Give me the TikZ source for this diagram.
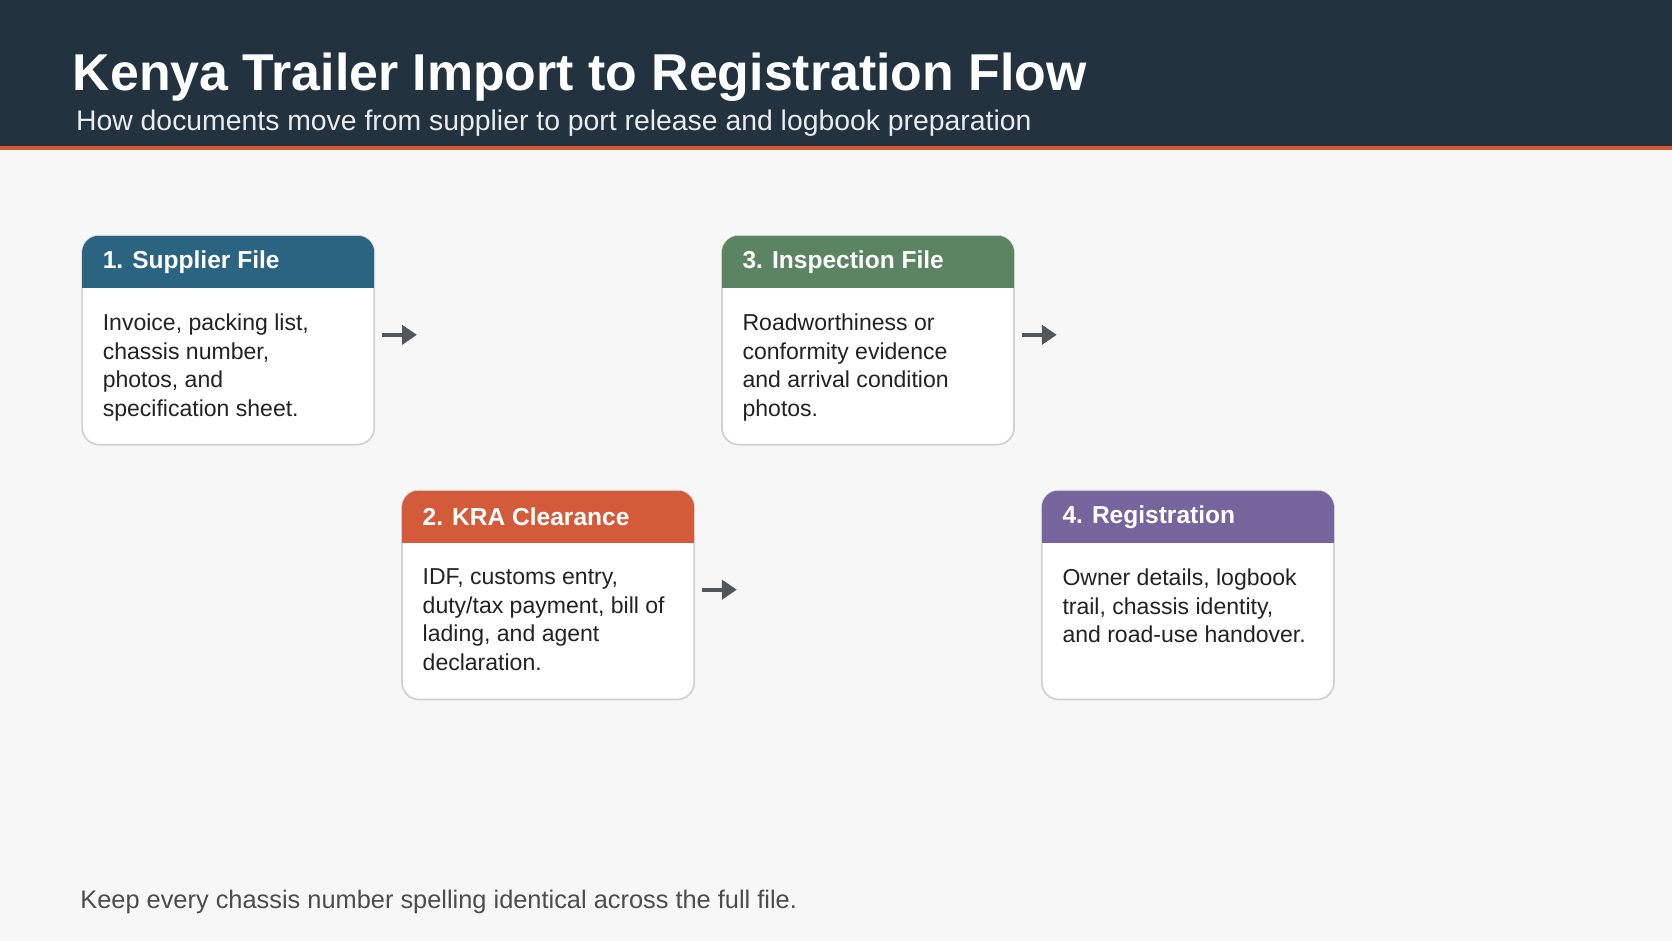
\documentclass[tikz,border=0pt]{standalone}
\usepackage{fontspec}
\setmainfont{Liberation Sans}
\usetikzlibrary{arrows.meta}
\definecolor{bgc}{HTML}{F7F7F7}
\definecolor{hdr}{HTML}{22333F}
\definecolor{acc}{HTML}{D35B37}
\definecolor{cblue}{HTML}{2A6480}
\definecolor{cgreen}{HTML}{5A8462}
\definecolor{corange}{HTML}{D35B3A}
\definecolor{cpurple}{HTML}{76659D}
\definecolor{txt}{HTML}{222222}
\definecolor{arr}{HTML}{50575C}
\begin{document}
\begin{tikzpicture}[x=0.5pt,y=-0.5pt,
  card/.style={draw=black!18,line width=0.8pt,fill=white,rounded corners=8pt},
  head/.style={anchor=west,text=white,font=\fontsize{11.5}{13}\selectfont\bfseries,inner sep=0pt},
  body/.style={anchor=north west,text=txt,font=\fontsize{10.8}{13.4}\selectfont,inner sep=0pt,align=left},
  flow/.style={draw=arr,line width=2pt,-{Triangle[length=7pt,width=9pt]}}]
\useasboundingbox (0,0) rectangle (1568,882);
\fill[bgc] (0,0) rectangle (1568,882);
\fill[hdr] (0,0) rectangle (1568,138);
\fill[acc] (0,137) rectangle (1568,141);
\node[anchor=base west,text=white,font=\fontsize{24.3}{28}\selectfont\bfseries,inner sep=0pt] (title) at (68,85) {Kenya Trailer Import to Registration Flow};
\node[anchor=base west,text=white!90!hdr,font=\fontsize{13.3}{15}\selectfont,inner sep=0pt] (sub) at (71,122) {How documents move from supplier to port release and logbook preparation};
% cards
\foreach \n/\x/\y/\c in {a/77/221/cblue,c/677/221/cgreen,b/377/460/corange,d/977/460/cpurple}{
  \draw[card] (\x,\y) rectangle ++(274,196);
  \begin{scope}
    \clip[rounded corners=8pt] (\x,\y) rectangle ++(274,196);
    \fill[\c] (\x,\y) rectangle ++(274,49);
  \end{scope}
}
\node[head] (ha) at (96,246) {1. Supplier File};
\node[head] (hc) at (696,246) {3. Inspection File};
\node[head] (hb) at (396,485) {2. KRA Clearance};
\node[head] (hd) at (996,485) {4. Registration};
\node[body] (ba) at (96,294) {Invoice, packing list,\\chassis number,\\photos, and\\specification sheet.};
\node[body] (bc) at (696,294) {Roadworthiness or\\conformity evidence\\and arrival condition\\photos.};
\node[body] (bb) at (396,533) {IDF, customs entry,\\duty/tax payment, bill of\\lading, and agent\\declaration.};
\node[body] (bd) at (996,533) {Owner details, logbook\\trail, chassis identity,\\and road-use handover.};
\coordinate (a1) at (358,314); \coordinate (a2) at (391,314);
\coordinate (c1) at (958,314); \coordinate (c2) at (991,314);
\coordinate (b1) at (658,553); \coordinate (b2) at (691,553);
\draw[flow] (a1) -- (a2);
\draw[flow] (c1) -- (c2);
\draw[flow] (b1) -- (b2);
\node[anchor=base west,text=black!70,font=\fontsize{11.9}{14}\selectfont,inner sep=0pt] (foot) at (75,852) {Keep every chassis number spelling identical across the full file.};
\end{tikzpicture}
\end{document}
